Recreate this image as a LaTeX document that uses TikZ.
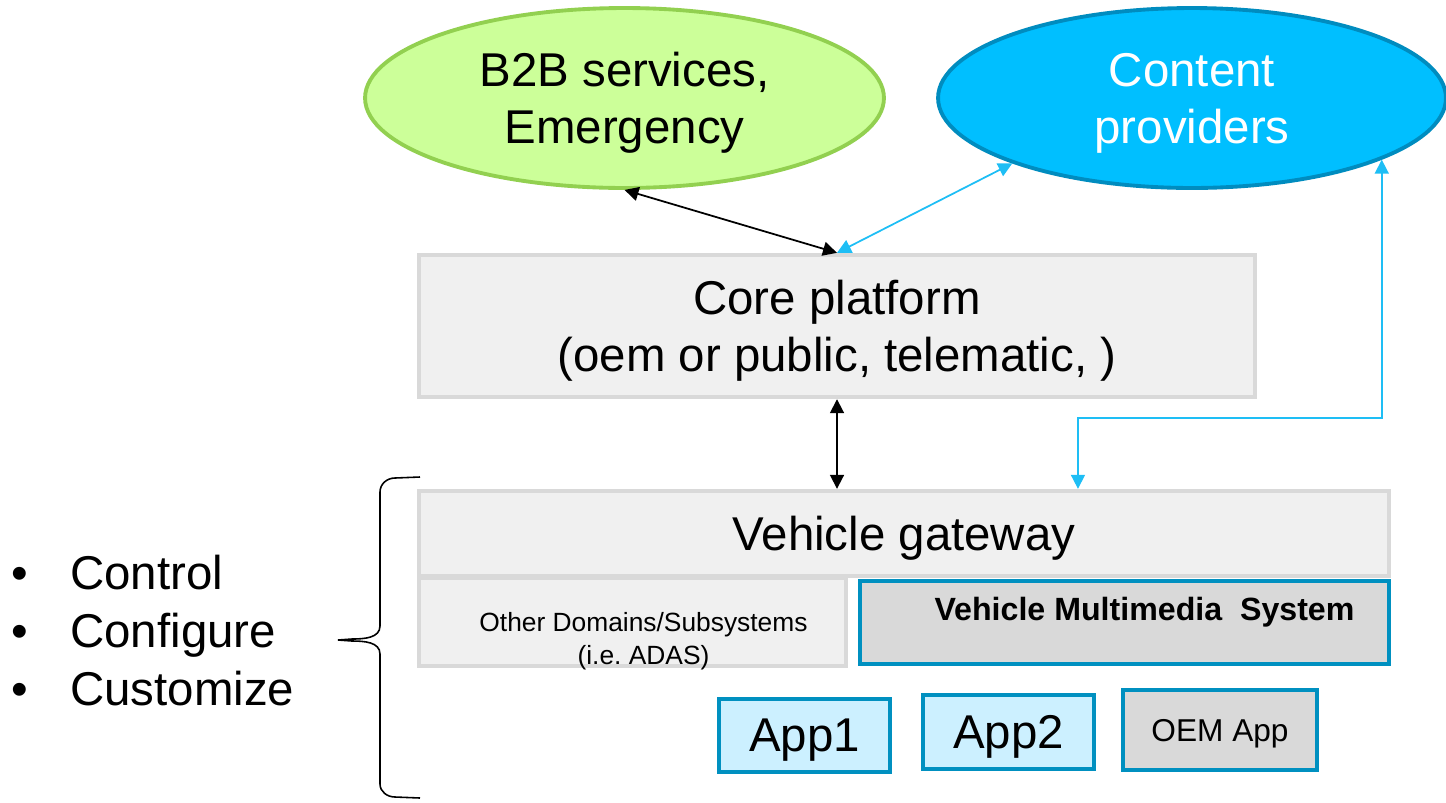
\documentclass[tikz,border=0pt]{standalone}
\usepackage{fontspec}
\setmainfont{Liberation Sans}
\usetikzlibrary{arrows.meta,positioning,calc,shapes.geometric}

\definecolor{b2bfill}{HTML}{CCFF99}
\definecolor{b2bline}{HTML}{92D050}
\definecolor{cpfill}{HTML}{00BFFF}
\definecolor{cpline}{HTML}{008CBF}
\definecolor{boxfill}{HTML}{F0F0F0}
\definecolor{boxgray}{HTML}{D9D9D9}
\definecolor{appfill}{HTML}{CCF0FF}
\definecolor{appline}{HTML}{0090C0}
\definecolor{linkcyan}{HTML}{1EBEF5}

\begin{document}
\begin{tikzpicture}[
      x=0.02cm, y=-0.02cm,
      big/.style={font=\fontsize{27}{32.5}\selectfont, text depth=0pt},
      small/.style={font=\fontsize{15}{19}\selectfont},
      cloud/.style={ellipse, line width=2.2pt, inner sep=0pt, align=center, big, minimum height=3.6cm},
      layer/.style={draw=boxgray, fill=boxfill, line width=2.5pt, inner sep=0pt, align=center, big},
      app/.style={draw=appline, fill=appfill, line width=2.5pt, inner sep=0pt, big},
      link/.style={<->, line width=1pt},
      >={Triangle[length=2.8mm,width=2.8mm]}
    ]
    \useasboundingbox (0,0) rectangle (1446,802);

    % Outside partners
    \node[cloud, draw=b2bline, fill=b2bfill, minimum width=10.38cm] (b2b) at (624.5,98) {B2B services,\\Emergency};
    \node[cloud, draw=cpline, fill=cpfill, text=white, minimum width=10.16cm] (content) at (1192,98) {Content\\providers};

    % Platform and vehicle
    \node[layer, minimum width=16.72cm, minimum height=2.84cm] (core) at (837,326) {Core platform\\(oem or public, telematic, )};
    \node[layer, minimum width=19.4cm, minimum height=1.7cm] (gateway) at (904,533.5) {Vehicle gateway};
    \node[layer, minimum width=8.54cm, minimum height=1.76cm,
          label={[small, align=center, xshift=0.22cm, yshift=-0.38cm]center:Other Domains/Subsystems\\(i.e.\ ADAS)}] (other) at (632.5,622) {};
    \node[layer, draw=appline, fill=boxgray, minimum width=10.58cm, minimum height=1.66cm,
          label={[font=\fontsize{18.3}{22}\selectfont\bfseries, xshift=0.4cm, yshift=0.2cm]center:Vehicle Multimedia \ System}] (vms) at (1124.5,622.5) {};

    % Apps
    \node[app, minimum width=3.42cm, minimum height=1.46cm] (app1) at (804.5,735.5) {App1};
    \node[app, minimum width=3.42cm, minimum height=1.48cm] (app2) at (1008.5,732) {App2};
    \node[app, fill=boxgray, font=\fontsize{18}{21}\selectfont, minimum width=3.88cm, minimum height=1.6cm] (oem) at (1220,730) {OEM App};

    % Links
    \draw[link] (b2b.south) -- (core.north);
    \draw[link, linkcyan] (content.200) -- (core.north);
    \draw[link] (core.south) -- (core.south |- gateway.north);
    \coordinate (vmsport) at ([xshift=3.48cm]gateway.north);
    \draw[link, linkcyan] (content.342) |- ([yshift=1.42cm]vmsport) -- (vmsport);

    % What the owner does
    \draw[line width=0.9pt] (420,477) -- (395,478) to[out=180,in=90] (380,492) -- (380,626)
      to[out=-90,in=0] (352,639) -- (338,640) -- (352,641) to[out=0,in=90] (380,654)
      -- (380,784) to[out=-90,in=180] (395,797) -- (420,798);
    \node[big, align=left, anchor=north west, inner sep=0pt, font=\fontsize{27}{33}\selectfont] (tasks) at (5,555)
      {\makebox[1.3cm][l]{\hspace{0.12cm}\textbullet}Control\\\makebox[1.3cm][l]{\hspace{0.12cm}\textbullet}Configure\\\makebox[1.3cm][l]{\hspace{0.12cm}\textbullet}Customize};

\end{tikzpicture}
\end{document}
